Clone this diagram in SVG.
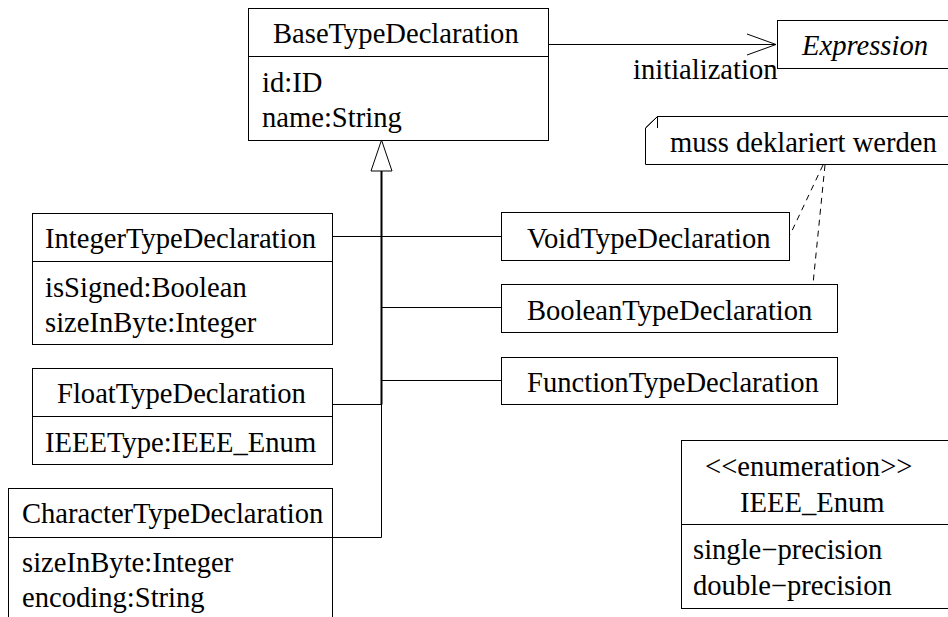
<svg xmlns="http://www.w3.org/2000/svg" width="948" height="617" viewBox="0 0 948 617">
  <style>
    .box { fill: #fff; stroke: #000; stroke-width: 1; }
    .sep { stroke: #000; stroke-width: 1; }
    .t { font-family: "Liberation Serif", "Times New Roman", serif; font-size: 28.6px; fill: #000; }
    .it { font-style: italic; }
    .ln { fill: none; stroke: #000; stroke-width: 1; }
    .gen { fill: none; stroke: #000; stroke-width: 2; }
    .dash { fill: none; stroke: #000; stroke-width: 1; stroke-dasharray: 6 5; }
  </style>
  <rect width="948" height="617" fill="#fff"/>

  <!-- connectors -->
  <g id="connectors">
    <!-- generalization tree -->
    <polygon points="381.5,140 371,171 392,171" fill="#fff" stroke="#000" stroke-width="1"/>
    <line class="gen" x1="381.5" y1="171" x2="381.5" y2="404.5"/>
    <line class="ln" x1="381.5" y1="404" x2="381.5" y2="537.5"/>
    <line class="ln" x1="333" y1="236.5" x2="501" y2="236.5"/>
    <line class="ln" x1="381.5" y1="307.5" x2="501" y2="307.5"/>
    <line class="ln" x1="381.5" y1="380.5" x2="501" y2="380.5"/>
    <line class="ln" x1="333" y1="404.5" x2="381.5" y2="404.5"/>
    <line class="ln" x1="333" y1="537.5" x2="381.5" y2="537.5"/>
    <!-- association to Expression -->
    <line class="ln" x1="548" y1="44.5" x2="776" y2="44.5"/>
    <polyline class="ln" points="747,34 776,44.5 747,55"/>
    <text class="t" x="633" y="79">initialization</text>
    <!-- note anchors -->
    <line class="dash" x1="823" y1="165" x2="790" y2="235"/>
    <line class="dash" x1="825" y1="165" x2="813" y2="284"/>
  </g>

  <g id="BaseTypeDeclaration">
    <rect class="box" x="248.5" y="8.5" width="300" height="132"/>
    <line class="sep" x1="248.5" y1="56.5" x2="548.5" y2="56.5"/>
    <text class="t" x="273" y="43">BaseTypeDeclaration</text>
    <text class="t" x="262" y="92">id:ID</text>
    <text class="t" x="262" y="127">name:String</text>
  </g>

  <g id="Expression">
    <rect class="box" x="777.5" y="20.5" width="180" height="48"/>
    <text class="t it" x="802" y="55">Expression</text>
  </g>

  <g id="Note">
    <path class="box" d="M645.5,128 L657.5,116.5 L960,116.5 L960,164.5 L645.5,164.5 Z"/>
    <path class="ln" d="M645.5,128 L657.5,116.5 L657.5,128"/>
    <text class="t" x="670" y="152">muss deklariert werden</text>
  </g>

  <g id="IntegerTypeDeclaration">
    <rect class="box" x="32.5" y="213.5" width="300" height="131"/>
    <line class="sep" x1="32.5" y1="261.5" x2="332.5" y2="261.5"/>
    <text class="t" x="45" y="248">IntegerTypeDeclaration</text>
    <text class="t" x="45" y="297">isSigned:Boolean</text>
    <text class="t" x="45" y="332">sizeInByte:Integer</text>
  </g>

  <g id="FloatTypeDeclaration">
    <rect class="box" x="32.5" y="368.5" width="300" height="96"/>
    <line class="sep" x1="32.5" y1="416.5" x2="332.5" y2="416.5"/>
    <text class="t" x="57" y="403">FloatTypeDeclaration</text>
    <text class="t" x="45" y="452">IEEEType:IEEE_Enum</text>
  </g>

  <g id="CharacterTypeDeclaration">
    <rect class="box" x="8.5" y="488.5" width="324" height="140"/>
    <line class="sep" x1="8.5" y1="537.5" x2="332.5" y2="537.5"/>
    <text class="t" x="22" y="523">CharacterTypeDeclaration</text>
    <text class="t" x="22" y="572">sizeInByte:Integer</text>
    <text class="t" x="22" y="607">encoding:String</text>
  </g>

  <g id="VoidTypeDeclaration">
    <rect class="box" x="501.5" y="212.5" width="288" height="48"/>
    <text class="t" x="527" y="248">VoidTypeDeclaration</text>
  </g>

  <g id="BooleanTypeDeclaration">
    <rect class="box" x="501.5" y="284.5" width="336" height="48"/>
    <text class="t" x="527" y="320">BooleanTypeDeclaration</text>
  </g>

  <g id="FunctionTypeDeclaration">
    <rect class="box" x="501.5" y="357.5" width="336" height="47"/>
    <text class="t" x="527" y="392">FunctionTypeDeclaration</text>
  </g>

  <g id="IEEE_Enum">
    <rect class="box" x="681.5" y="440.5" width="280" height="168"/>
    <line class="sep" x1="681.5" y1="524.5" x2="960" y2="524.5"/>
    <text class="t" x="705" y="476">&lt;&lt;enumeration&gt;&gt;</text>
    <text class="t" x="740" y="512">IEEE_Enum</text>
    <text class="t" x="693" y="559">single−precision</text>
    <text class="t" x="693" y="595">double−precision</text>
  </g>
</svg>
